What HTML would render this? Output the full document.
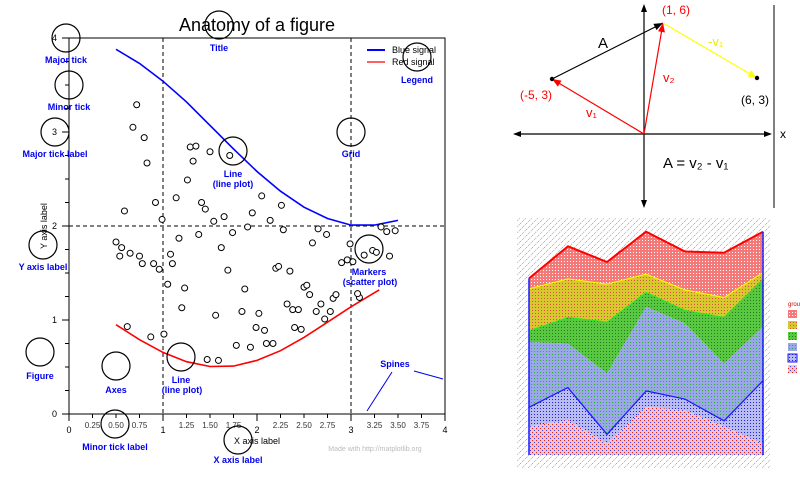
<!DOCTYPE html>
<html><head><meta charset="utf-8"><style>
html,body{margin:0;padding:0;background:#fff;}
svg{display:block;font-family:"Liberation Sans",sans-serif;}
.ann{fill:#0000ee;font-weight:bold;font-size:9px;text-anchor:middle;}
.circ{fill:none;stroke:#000;stroke-width:1.2;}
</style></head><body>
<svg id="root" width="800" height="480" viewBox="0 0 800 480" xmlns="http://www.w3.org/2000/svg">
<defs>
<pattern id="pRed" width="3" height="3" patternUnits="userSpaceOnUse"><rect width="3" height="3" fill="#f47a7a"/><rect width="1" height="1" fill="#fff"/></pattern>
<pattern id="pYel" width="3" height="3" patternUnits="userSpaceOnUse"><rect width="3" height="3" fill="#d8c830"/><rect x="1" y="1" width="1" height="1" fill="#e05040"/></pattern>
<pattern id="pGrn" width="3" height="3" patternUnits="userSpaceOnUse"><rect width="3" height="3" fill="#58c840"/><rect width="1" height="1" fill="#2a7a20"/></pattern>
<pattern id="pLB" width="3" height="3" patternUnits="userSpaceOnUse"><rect width="3" height="3" fill="#9aa8e8"/><rect width="1" height="1" fill="#30b030"/></pattern>
<pattern id="pBlu" width="3" height="3" patternUnits="userSpaceOnUse"><rect width="3" height="3" fill="#b8bcf0"/><rect width="1" height="1" fill="#2020e0"/></pattern>
<pattern id="pRH" width="4" height="4" patternUnits="userSpaceOnUse"><rect width="4" height="4" fill="#f4c4c4"/><rect width="1" height="1" fill="#e02020"/><rect x="2" y="2" width="1" height="1" fill="#4040e0"/></pattern>
<pattern id="pBk" width="6" height="6" patternUnits="userSpaceOnUse"><rect width="6" height="6" fill="#fff"/><path d="M0 6L6 0" stroke="#777" stroke-width="0.6" stroke-dasharray="1 1"/></pattern>
</defs>
<g id="left"></g>
<g id="vec"></g>
<g id="stack"></g>
</svg>
<script>
// ---------- left chart data ----------
const lineX = [0.5,0.75,1,1.25,1.5,1.75,2,2.25,2.5,2.75,3,3.25,3.5];
const blueY = [3.88,3.73,3.54,3.32,3.07,2.82,2.58,2.37,2.20,2.08,2.01,2.01,2.06];
const redX = [0.5,0.75,1,1.25,1.5,1.75,2,2.25,2.5,2.75,3,3.25,3.3];
const redY = [0.95,0.79,0.655,0.556,0.505,0.51,0.57,0.673,0.815,0.977,1.14,1.29,1.32];
const scatX = [0.72,0.68,0.80,0.83,0.59,0.92,0.99,0.50,0.56,0.54,0.65,0.75,0.78,0.90,0.96,0.62,0.87,1.01,1.29,1.35,1.50,1.71,1.32,1.26,1.14,1.41,1.45,1.54,1.65,1.38,1.17,1.08,1.10,1.05,1.23,1.20,1.74,1.90,1.95,2.05,2.14,2.26,2.28,1.62,1.69,1.87,1.84,2.02,1.99,2.08,1.56,1.78,1.93,2.10,2.17,1.47,1.59,2.20,2.23,2.35,2.59,2.65,2.74,2.50,2.53,2.56,2.32,2.38,2.44,2.40,2.47,2.63,2.68,2.72,2.78,2.81,2.84,2.99,2.96,3.02,2.90,3.14,3.23,3.27,3.41,3.32,3.38,3.47,3.09,3.07];
const scatY = [3.29,3.05,2.94,2.67,2.16,2.25,2.07,1.83,1.77,1.68,1.71,1.68,1.60,1.60,1.54,0.93,0.82,0.85,2.84,2.85,2.79,2.75,2.69,2.49,2.30,2.25,2.18,2.05,2.10,1.91,1.87,1.70,1.60,1.38,1.34,1.13,1.93,1.99,2.14,2.32,2.06,2.22,1.96,1.77,1.53,1.33,1.09,1.07,0.92,0.89,1.05,0.73,0.71,0.75,0.75,0.58,0.57,1.55,1.57,1.52,1.82,1.97,1.91,1.35,1.37,1.27,1.17,1.11,1.11,0.92,0.90,1.09,1.17,1.01,1.09,1.23,1.27,1.81,1.64,1.62,1.61,1.69,1.74,1.72,1.68,1.99,1.94,1.95,1.24,1.28];
const majorTicks = ["0","1","2","3","4"];
const minorLabels = ["0.25","0.50","0.75","1.25","1.50","1.75","2.25","2.50","2.75","3.25","3.50","3.75"];
const minorVals = [0.25,0.5,0.75,1.25,1.5,1.75,2.25,2.5,2.75,3.25,3.5,3.75];

// ---------- stacked data ----------
const stackCats = [0,1,2,3,4,5,6];
const layerRedHatch = [0.49,0.6,0.2,0.83,0.77,0.49,0.2];
const layerBlueLine = [0.34,0.57,0.17,0.28,0.2,0.11,1.09];
const layerLightBlue = [1.11,0.74,1.03,1.43,1.29,0.97,0.91];
const layerGreen = [0.2,0.46,0.89,0.26,0.23,0.8,0.83];
const layerYellow = [0.72,0.66,0.65,0.31,0.35,0.34,0.11];
const layerRed = [0.17,0.55,0.37,0.72,0.65,0.76,0.69];

const NS="http://www.w3.org/2000/svg";
function mk(tag,attrs,parent,text){const e=document.createElementNS(NS,tag);for(const k in attrs)e.setAttribute(k,attrs[k]);if(text!==undefined)e.textContent=text;parent.appendChild(e);return e;}

// ===== LEFT CHART =====
const L=document.getElementById('left');
const xs=v=>69+94*v, ys=v=>414-94*v;
let t=mk('text',{x:257,y:31,'font-size':18,'text-anchor':'middle',fill:'#000'},L,'Anatomy of a figure');


// grid
[[xs(1),ys(4),xs(1),ys(0)],[xs(3),ys(4),xs(3),ys(0)],[xs(0),ys(2),xs(4),ys(2)]].forEach(g=>{
 const e=mk('line',{x1:g[0],y1:g[1],x2:g[2],y2:g[3],stroke:'#000','stroke-width':1,'stroke-dasharray':'4 3'},L);
 
 
});
// spines
const sp=mk('rect',{x:xs(0),y:ys(4),width:xs(4)-xs(0),height:ys(0)-ys(4),fill:'none',stroke:'#000','stroke-width':1},L);


// ticks
for(let i=0;i<=16;i++){const v=i/4;const maj=i%4===0;
 let e=mk('line',{x1:xs(v),y1:414,x2:xs(v),y2:414+(maj?7:4),stroke:'#000'},L);
 
 
 e=mk('line',{x1:69,y1:ys(v),x2:69-(maj?7:4),y2:ys(v),stroke:'#000'},L);
 
 
}
majorTicks.forEach((s,i)=>{
 let e=mk('text',{x:xs(i),y:433,'font-size':9,'text-anchor':'middle'},L,s);
 
 
 e=mk('text',{x:57,y:ys(i)+3,'font-size':9,'text-anchor':'end'},L,s);
 
 
});
minorVals.forEach((v,i)=>{
 const e=mk('text',{x:xs(v),y:428,'font-size':8,'text-anchor':'middle',fill:'#333'},L,minorLabels[i]);
 
 
});
t=mk('text',{x:257,y:444,'font-size':9,'text-anchor':'middle'},L,'X axis label');


t=mk('text',{x:0,y:0,'font-size':9,'text-anchor':'middle',transform:'translate(47,226) rotate(-90)'},L,'Y axis label');


t=mk('text',{x:375,y:451,'font-size':7,'text-anchor':'middle',fill:'#bbb'},L,'Made with http://matplotlib.org');


// lines
function pathFrom(X,Y){return X.map((x,i)=>(i?'L':'M')+xs(x).toFixed(1)+' '+ys(Y[i]).toFixed(1)).join(' ');}
let bl=mk('path',{d:pathFrom(lineX,blueY),fill:'none',stroke:'#0000ff','stroke-width':1.6},L);


let rl=mk('path',{d:pathFrom(redX,redY),fill:'none',stroke:'#ff0000','stroke-width':1.6},L);


scatX.forEach((x,i)=>{
 const c=mk('circle',{cx:xs(x),cy:ys(scatY[i]),r:3,fill:'#fff',stroke:'#000','stroke-width':1},L);
 
 
});
// legend
const lg=mk('g',{},L);


mk('line',{x1:367,y1:50,x2:385,y2:50,stroke:'#0000ff','stroke-width':2},lg);
mk('line',{x1:367,y1:62,x2:385,y2:62,stroke:'#ff0000','stroke-width':1.2},lg);
let le=mk('text',{x:392,y:53,'font-size':9},lg,'Blue signal');


le=mk('text',{x:392,y:65,'font-size':9},lg,'Red signal');


// annotations
const anns=[[66,38,'Major tick',63],[69,85,'Minor tick',110],[55,132,'Major tick label',157],[43,245,'Y axis label',270],[40,352,'Figure',379],[116,366,'Axes',393],[181,357,'Line',383],[233,151,'Line',177],[219,25,'Title',51],[417,57,'Legend',83],[351,132,'Grid',157],[369,249,'Markers',275],[115,424,'Minor tick label',450],[238,440,'X axis label',463]];
anns.forEach(a=>{
 const c=mk('circle',{cx:a[0],cy:a[1],r:14,class:'circ'},L);
 
 
 const e=mk('text',{x:a[0],y:a[3],class:'ann'},L,a[2]);
 
 
});
[[182,393,'(line plot)'],[233,187,'(line plot)'],[370,285,'(scatter plot)'],[395,367,'Spines']].forEach(a=>{
 const e=mk('text',{x:a[0],y:a[1],class:'ann'},L,a[2]);
 
 
});
mk('line',{x1:392,y1:372,x2:367,y2:411,stroke:'#0000ee','stroke-width':1},L);
mk('line',{x1:414,y1:371,x2:443,y2:379,stroke:'#0000ee','stroke-width':1},L);

// ===== VECTOR DIAGRAM =====
const V=document.getElementById('vec');
mk('line',{x1:774,y1:5,x2:774,y2:208,stroke:'#000'},V);
const ax1=mk('line',{x1:515,y1:134,x2:770,y2:134,stroke:'#000','stroke-width':1.2},V);


const ax2=mk('line',{x1:644,y1:6,x2:644,y2:206,stroke:'#000','stroke-width':1.2},V);


mk('path',{d:'M513 134 l8 -3 v6z M772 134 l-8 -3 v6z M644 4 l-3 8 h6z M644 208 l-3 -8 h6z',fill:'#000'},V);
mk('text',{x:780,y:138,'font-size':12},V,'x');
function arrow(x1,y1,x2,y2,col,name){
 const g=mk('g',{},V);
 
 
 mk('line',{x1,y1,x2,y2,stroke:col,'stroke-width':1.2},g);
 const a=Math.atan2(y2-y1,x2-x1),L2=9,w=3.5;
 const bx=x2-L2*Math.cos(a),by=y2-L2*Math.sin(a);
 mk('path',{d:`M${x2} ${y2} L${bx-w*Math.sin(a)} ${by+w*Math.cos(a)} L${bx+w*Math.sin(a)} ${by-w*Math.cos(a)}Z`,fill:col},g);
}
arrow(552,79,663,23,'#000','vector-a');
arrow(644,134,552,79,'#ff0000','vector-v1');
arrow(644,134,663,23,'#ff0000','vector-v2');
arrow(663,23,757,78,'#ffff00','vector-neg-v1');
[[552,79],[757,78]].forEach(p=>mk('circle',{cx:p[0],cy:p[1],r:2.2,fill:'#000'},V));
[[598,48,'A','#000',15],[586,117,'v₁','#ff0000',13],[663,82,'v₂','#ff0000',13],[708,46,'-v₁','#eeee00',13],[662,14,'(1, 6)','#ff0000',12],[520,99,'(-5, 3)','#ff0000',12],[741,104,'(6, 3)','#000',12],[663,168,'A  =  v₂ - v₁','#000',15]].forEach(a=>{
 const e=mk('text',{x:a[0],y:a[1],fill:a[3],'font-size':a[4]},V,a[2]);
 
 
});

// ===== STACKED AREA =====
const S=document.getElementById('stack');
const sx=i=>529+i*(763-529)/6, sy=v=>455-v*58.3;
const bg=mk('rect',{x:517,y:218,width:253,height:250,fill:'url(#pBk)'},S);


const layers=[layerRedHatch,layerBlueLine,layerLightBlue,layerGreen,layerYellow,layerRed];
const fills=['url(#pRH)','url(#pBlu)','url(#pLB)','url(#pGrn)','url(#pYel)','url(#pRed)'];
const strokes=['none','#1a1aff','none','#22ee22','#ffff00','#ff0000'];
const names=['area-red-hatch','area-blue','area-light-blue','area-green','area-yellow','area-red'];
let base=stackCats.map(()=>0);
layers.forEach((lay,k)=>{
 const top=base.map((b,i)=>b+lay[i]);
 let d=stackCats.map((c,i)=>(i?'L':'M')+sx(c)+' '+sy(top[i])).join(' ');
 for(let i=stackCats.length-1;i>=0;i--)d+=' L'+sx(stackCats[i])+' '+sy(base[i]);
 const p=mk('path',{d:d+'Z',fill:fills[k]},S);
 
 
 if(strokes[k]!=='none'){
  const tl=stackCats.map((c,i)=>(i?'L':'M')+sx(c)+' '+sy(top[i])).join(' ');
  const l=mk('path',{d:tl,fill:'none',stroke:strokes[k],'stroke-width':k===1?2.5:2},S);
  
  
 }
 base=top;
});
mk('line',{x1:529,y1:sy(base[0]),x2:529,y2:455,stroke:'#1a1aff','stroke-width':1.5},S);
mk('line',{x1:763,y1:sy(base[6]),x2:763,y2:455,stroke:'#1a1aff','stroke-width':1.5},S);
// legend
const sl=mk('g',{},S);


mk('text',{x:788,y:306,'font-size':6,fill:'#c00'},sl,'grou');
fills.slice().reverse().forEach((f,i)=>{
 const r=mk('rect',{x:788,y:310+i*11,width:9,height:8,fill:f,stroke:i===4?'#1a1aff':'none'},sl);
 
 
});
</script>
</body></html>
